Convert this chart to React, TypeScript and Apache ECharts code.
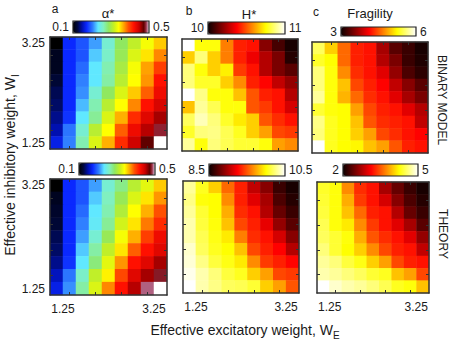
import React, { useEffect, useRef } from 'react';
import * as echarts from 'echarts';

// Effective weights (category values on both axes)
const W_VALUES = ['1.25', '1.5', '1.75', '2', '2.25', '2.5', '2.75', '3', '3.25'];

// Each matrix: rows from top (W_I = 3.25) to bottom (W_I = 1.25); columns W_E = 1.25 -> 3.25
const alphaBinary = [
  [0.100, 0.172, 0.188, 0.212, 0.252, 0.288, 0.312, 0.336, 0.356],
  [0.112, 0.172, 0.188, 0.224, 0.256, 0.292, 0.324, 0.348, 0.376],
  [0.112, 0.172, 0.196, 0.232, 0.264, 0.300, 0.336, 0.368, 0.400],
  [0.120, 0.172, 0.204, 0.232, 0.268, 0.308, 0.340, 0.372, 0.420],
  [0.128, 0.172, 0.208, 0.252, 0.288, 0.324, 0.356, 0.388, 0.428],
  [0.132, 0.172, 0.220, 0.264, 0.308, 0.340, 0.376, 0.420, 0.440],
  [0.140, 0.176, 0.232, 0.272, 0.324, 0.364, 0.408, 0.436, 0.456],
  [0.148, 0.200, 0.252, 0.308, 0.340, 0.388, 0.428, 0.452, 0.482],
  [0.164, 0.204, 0.264, 0.324, 0.364, 0.408, 0.444, 0.472, 0.500],
];
const hBinary = [
  [11.00, 10.76, 10.76, 10.56, 10.42, 10.40, 10.19, 10.09, 10.02],
  [10.68, 10.87, 10.68, 10.56, 10.42, 10.35, 10.26, 10.17, 10.04],
  [10.87, 10.76, 10.68, 10.73, 10.46, 10.40, 10.26, 10.17, 10.12],
  [10.87, 10.79, 10.79, 10.68, 10.58, 10.42, 10.38, 10.28, 10.21],
  [11.00, 10.88, 10.76, 10.76, 10.66, 10.50, 10.42, 10.40, 10.26],
  [10.66, 10.90, 10.83, 10.76, 10.76, 10.50, 10.46, 10.40, 10.31],
  [10.84, 10.93, 10.87, 10.79, 10.72, 10.68, 10.50, 10.44, 10.40],
  [10.79, 10.87, 10.88, 10.83, 10.78, 10.68, 10.61, 10.48, 10.46],
  [10.90, 10.76, 10.87, 10.83, 10.80, 10.80, 10.76, 10.61, 10.58],
];
const fragBinary = [
  [5.52, 5.04, 4.59, 4.26, 4.20, 3.72, 3.36, 3.21, 3.06],
  [5.37, 5.25, 4.59, 4.26, 4.20, 3.78, 3.51, 3.21, 3.09],
  [5.61, 5.28, 4.74, 4.32, 4.20, 3.99, 3.63, 3.30, 3.15],
  [5.61, 5.28, 4.98, 4.44, 4.26, 4.13, 3.84, 3.57, 3.36],
  [5.70, 5.28, 4.92, 4.59, 4.32, 4.20, 3.99, 3.72, 3.51],
  [5.40, 5.28, 5.25, 4.83, 4.44, 4.26, 4.20, 3.99, 3.78],
  [5.64, 5.34, 5.25, 4.98, 4.50, 4.32, 4.26, 4.20, 3.84],
  [5.61, 5.34, 5.25, 5.04, 4.83, 4.44, 4.32, 4.20, 4.13],
  [6.00, 5.34, 5.25, 5.22, 4.98, 4.83, 4.50, 4.26, 4.20],
];
const alphaTheory = [
  [0.100, 0.172, 0.188, 0.212, 0.252, 0.276, 0.308, 0.328, 0.356],
  [0.112, 0.172, 0.188, 0.224, 0.260, 0.292, 0.324, 0.348, 0.372],
  [0.116, 0.172, 0.196, 0.232, 0.264, 0.304, 0.340, 0.364, 0.392],
  [0.120, 0.172, 0.204, 0.236, 0.272, 0.320, 0.348, 0.380, 0.408],
  [0.128, 0.172, 0.212, 0.252, 0.292, 0.336, 0.364, 0.400, 0.428],
  [0.132, 0.172, 0.224, 0.268, 0.312, 0.348, 0.388, 0.420, 0.436],
  [0.140, 0.176, 0.232, 0.280, 0.328, 0.372, 0.420, 0.436, 0.456],
  [0.152, 0.200, 0.256, 0.312, 0.344, 0.396, 0.436, 0.456, 0.480],
  [0.164, 0.208, 0.268, 0.324, 0.376, 0.420, 0.452, 0.490, 0.500],
];
const hTheory = [
  [10.30, 10.06, 9.86, 9.56, 9.34, 9.06, 8.88, 8.64, 8.54],
  [10.26, 10.02, 10.00, 9.66, 9.34, 9.16, 8.98, 8.70, 8.58],
  [10.30, 10.10, 10.00, 9.76, 9.38, 9.30, 9.02, 8.78, 8.64],
  [10.34, 10.12, 10.02, 9.82, 9.46, 9.34, 9.18, 8.92, 8.74],
  [10.34, 10.16, 10.04, 9.94, 9.62, 9.38, 9.30, 9.12, 8.88],
  [10.40, 10.18, 10.06, 10.00, 9.82, 9.46, 9.34, 9.25, 9.02],
  [10.42, 10.26, 10.12, 10.04, 9.94, 9.66, 9.42, 9.34, 9.26],
  [10.46, 10.34, 10.24, 10.12, 10.06, 9.86, 9.72, 9.46, 9.42],
  [10.50, 10.34, 10.26, 10.18, 10.16, 10.10, 9.86, 9.72, 9.50],
];
const fragTheory = [
  [4.37, 4.28, 3.74, 3.32, 3.20, 2.72, 2.42, 2.21, 2.06],
  [4.40, 4.28, 3.89, 3.38, 3.20, 2.93, 2.57, 2.30, 2.12],
  [4.43, 4.28, 3.98, 3.59, 3.26, 3.20, 2.78, 2.42, 2.21],
  [4.49, 4.28, 4.16, 3.74, 3.38, 3.20, 2.99, 2.72, 2.36],
  [4.52, 4.40, 4.28, 3.89, 3.50, 3.32, 3.20, 2.99, 2.63],
  [4.61, 4.40, 4.25, 4.04, 3.74, 3.44, 3.26, 3.20, 2.84],
  [4.70, 4.61, 4.43, 4.31, 4.04, 3.83, 3.44, 3.26, 3.20],
  [4.76, 4.70, 4.61, 4.52, 4.40, 4.34, 3.98, 3.83, 3.44],
  [5.00, 4.85, 4.76, 4.70, 4.61, 4.49, 4.34, 4.28, 3.98],
];

const MATRICES = [alphaBinary, hBinary, fragBinary, alphaTheory, hTheory, fragTheory];
const COLOR_MINS = [0.1, 10, 3, 0.1, 8.5, 2];
const COLOR_MAXS = [0.5, 11, 6, 0.5, 10.5, 5];
const COLOR_LOW_LABELS = ['0.1', '10', '3', '0.1', '8.5', '2'];
const COLOR_HIGH_LABELS = ['0.5', '11', '6', '0.5', '10.5', '5'];
const PANEL_LETTERS = ['a', 'b', 'c'];
const PANEL_TITLES = ['α*', 'H*', 'Fragility'];
const ROW_LABELS = ['BINARY MODEL', 'THEORY'];

const FONT = '"Liberation Sans", Arial, Helvetica, sans-serif';
const TEXT_COLOR = '#1a1a1a';
const AXIS_COLOR = '#333333';

const JET_STOPS: [number, string][] = [
  [0, '#000000'], [0.06, '#000840'], [0.12, '#0010b0'], [0.18, '#0a28ff'],
  [0.26, '#3080ff'], [0.33, '#60e8ff'], [0.40, '#80f0c0'], [0.47, '#90e860'],
  [0.54, '#c8f020'], [0.60, '#ffff00'], [0.66, '#ffb000'], [0.73, '#ff5000'],
  [0.80, '#ff1000'], [0.87, '#c80000'], [0.93, '#600000'], [0.955, '#902030'],
  [0.975, '#b06080'], [1, '#ffffff'],
];
const HOT_STOPS: [number, string][] = [
  [0, '#0b0000'], [0.375, '#ff0000'], [0.75, '#ffff00'], [1, '#ffffff'],
];

function hexToRgb(h: string) {
  return [parseInt(h.slice(1, 3), 16), parseInt(h.slice(3, 5), 16), parseInt(h.slice(5, 7), 16)];
}
function buildColormap(stops: [number, string][], n: number): string[] {
  const out: string[] = [];
  for (let i = 0; i < n; i++) {
    const t = i / (n - 1);
    let k = 0;
    while (k < stops.length - 2 && t > stops[k + 1][0]) k++;
    const [t0, c0] = stops[k];
    const [t1, c1] = stops[k + 1];
    const f = t1 === t0 ? 0 : Math.min(1, Math.max(0, (t - t0) / (t1 - t0)));
    const a = hexToRgb(c0);
    const b = hexToRgb(c1);
    const c = a.map((v, j) => Math.round(v + (b[j] - v) * f));
    out.push(`rgb(${c[0]},${c[1]},${c[2]})`);
  }
  return out;
}

// layout
const GRIDS = [
  { left: 50, top: 37, width: 117, height: 112 },
  { left: 182, top: 39, width: 116, height: 112 },
  { left: 312, top: 42, width: 116, height: 111 },
  { left: 50, top: 179, width: 117, height: 116 },
  { left: 183, top: 181, width: 116, height: 112 },
  { left: 317, top: 182, width: 112, height: 111 },
];
const BARS = [
  { x: 73, y: 21, len: 76, thick: 12 },
  { x: 208, y: 22, len: 77, thick: 12 },
  { x: 341, y: 27, len: 75, thick: 9 },
  { x: 79, y: 163, len: 76, thick: 12 },
  { x: 209, y: 164, len: 76, thick: 12 },
  { x: 343, y: 164, len: 75, thick: 12 },
];
const LETTER_POS = [[55, 9], [189, 11], [316, 12]];
const TITLE_POS = [[108, 13], [249, 14], [370, 13]];
const ROW_LABEL_POS = [[442, 100], [443, 234]];

export default function App() {
  const ref = useRef<HTMLDivElement>(null);
  useEffect(() => {
    document.body.style.margin = '0';
    const chart = echarts.init(ref.current!, null, { renderer: 'svg' });
    const ctx = document.createElement('canvas').getContext('2d')!;
    const measure = (s: string, size: number) => {
      ctx.font = `${size}px ${FONT}`;
      return ctx.measureText(s).width;
    };
    const jet = buildColormap(JET_STOPS, 201);
    const hot = buildColormap(HOT_STOPS, 201);
    const n = W_VALUES.length;
    const edgeLabel = (idx: number) => idx === 0 || idx === n - 1;
    const tickSel = (idx: number) => idx % 2 === 1;

    const xAxes: any[] = [];
    const yAxes: any[] = [];
    GRIDS.forEach((g, i) => {
      const showX = i >= 3;
      const showY = i % 3 === 0;
      const tick = {
        show: true, inside: true, length: 3, alignWithLabel: true, interval: tickSel,
        lineStyle: { color: AXIS_COLOR, width: 1 },
      };
      const line = { show: true, lineStyle: { color: AXIS_COLOR, width: 1.5 } };
      const lbl = { color: TEXT_COLOR, fontSize: 12, fontFamily: FONT };
      xAxes.push({
        type: 'category', gridIndex: i, position: 'bottom', data: W_VALUES, z: 5,
        axisLine: line, axisTick: tick, splitLine: { show: false },
        axisLabel: {
          show: showX, interval: edgeLabel, margin: 8, ...lbl,
          formatter: (v: string, idx: number) => (idx === 0 ? `{l|${v}}` : `{r|${v}}`),
          rich: { l: { ...lbl, padding: [0, 0, 0, 13] }, r: { ...lbl, padding: [0, 13, 0, 0] } },
        },
      });
      xAxes.push({
        type: 'category', gridIndex: i, position: 'top', data: W_VALUES, z: 5,
        axisLine: line, axisTick: tick, axisLabel: { show: false }, splitLine: { show: false },
      });
      yAxes.push({
        type: 'category', gridIndex: i, position: 'left', data: W_VALUES, z: 5,
        axisLine: line, axisTick: tick, splitLine: { show: false },
        axisLabel: { show: showY, interval: edgeLabel, margin: 5, ...lbl },
      });
      yAxes.push({
        type: 'category', gridIndex: i, position: 'right', data: W_VALUES, z: 5,
        axisLine: line, axisTick: tick, axisLabel: { show: false }, splitLine: { show: false },
      });
    });

    const series = MATRICES.map((m, i) => {
      const data: number[][] = [];
      m.forEach((row, r) => row.forEach((v, c) => data.push([c, n - 1 - r, v])));
      return {
        type: 'heatmap', xAxisIndex: 2 * i, yAxisIndex: 2 * i, data,
        itemStyle: { borderWidth: 0 }, emphasis: { disabled: true },
      };
    });

    const TEXT_GAP = 4;
    const visualMaps = BARS.map((b, i) => {
      const lowW = measure(COLOR_LOW_LABELS[i], 12);
      const textH = 12;
      const top = textH > b.thick ? b.y + b.thick / 2 - textH / 2 : b.y;
      return {
        type: 'continuous', seriesIndex: i, min: COLOR_MINS[i], max: COLOR_MAXS[i],
        orient: 'horizontal', calculable: false, hoverLink: false,
        itemWidth: b.thick, itemHeight: b.len, padding: 0,
        text: [COLOR_HIGH_LABELS[i], COLOR_LOW_LABELS[i]], textGap: TEXT_GAP,
        textStyle: { color: TEXT_COLOR, fontSize: 12, fontFamily: FONT },
        left: b.x - TEXT_GAP - lowW, top,
        inRange: { color: i % 3 === 0 ? jet : hot },
      };
    });

    const graphics: any[] = [];
    BARS.forEach((b) => {
      graphics.push({
        type: 'rect', z: 100, silent: true,
        shape: { x: b.x, y: b.y, width: b.len, height: b.thick },
        style: { fill: 'none', stroke: '#222', lineWidth: 1.2 },
      });
    });
    PANEL_LETTERS.forEach((l, i) => {
      graphics.push({
        type: 'text', x: LETTER_POS[i][0], y: LETTER_POS[i][1],
        style: { text: l, fill: TEXT_COLOR, font: `12px ${FONT}`, align: 'center', verticalAlign: 'middle' },
      });
      graphics.push({
        type: 'text', x: TITLE_POS[i][0], y: TITLE_POS[i][1],
        style: { text: PANEL_TITLES[i], fill: TEXT_COLOR, font: `13px ${FONT}`, align: 'center', verticalAlign: 'middle' },
      });
    });
    ROW_LABELS.forEach((l, i) => {
      graphics.push({
        type: 'text', x: ROW_LABEL_POS[i][0], y: ROW_LABEL_POS[i][1], rotation: -Math.PI / 2,
        style: { text: l, fill: TEXT_COLOR, font: `12px ${FONT}`, align: 'center', verticalAlign: 'middle' },
      });
    });
    const rich = {
      n: { fontSize: 14, fontFamily: FONT, fill: TEXT_COLOR, color: TEXT_COLOR },
      s: { fontSize: 10, fontFamily: FONT, fill: TEXT_COLOR, color: TEXT_COLOR, padding: [10, 0, 0, 0] },
    };
    graphics.push({
      type: 'text', x: 245, y: 330,
      style: { text: '{n|Effective excitatory weight, W}{s|E}', rich, align: 'center', verticalAlign: 'middle', fill: TEXT_COLOR },
    });
    graphics.push({
      type: 'text', x: 10, y: 165, rotation: Math.PI / 2,
      style: { text: '{n|Effective inhibitory weight, W}{s|I}', rich, align: 'center', verticalAlign: 'middle', fill: TEXT_COLOR },
    });

    chart.setOption({
      animation: false,
      backgroundColor: '#ffffff',
      grid: GRIDS.map((g) => ({ ...g, containLabel: false })),
      xAxis: xAxes,
      yAxis: yAxes,
      visualMap: visualMaps,
      series,
      graphic: graphics,
    });
    return () => chart.dispose();
  }, []);
  return <div ref={ref} style={{ width: 451, height: 343 }} />;
}
